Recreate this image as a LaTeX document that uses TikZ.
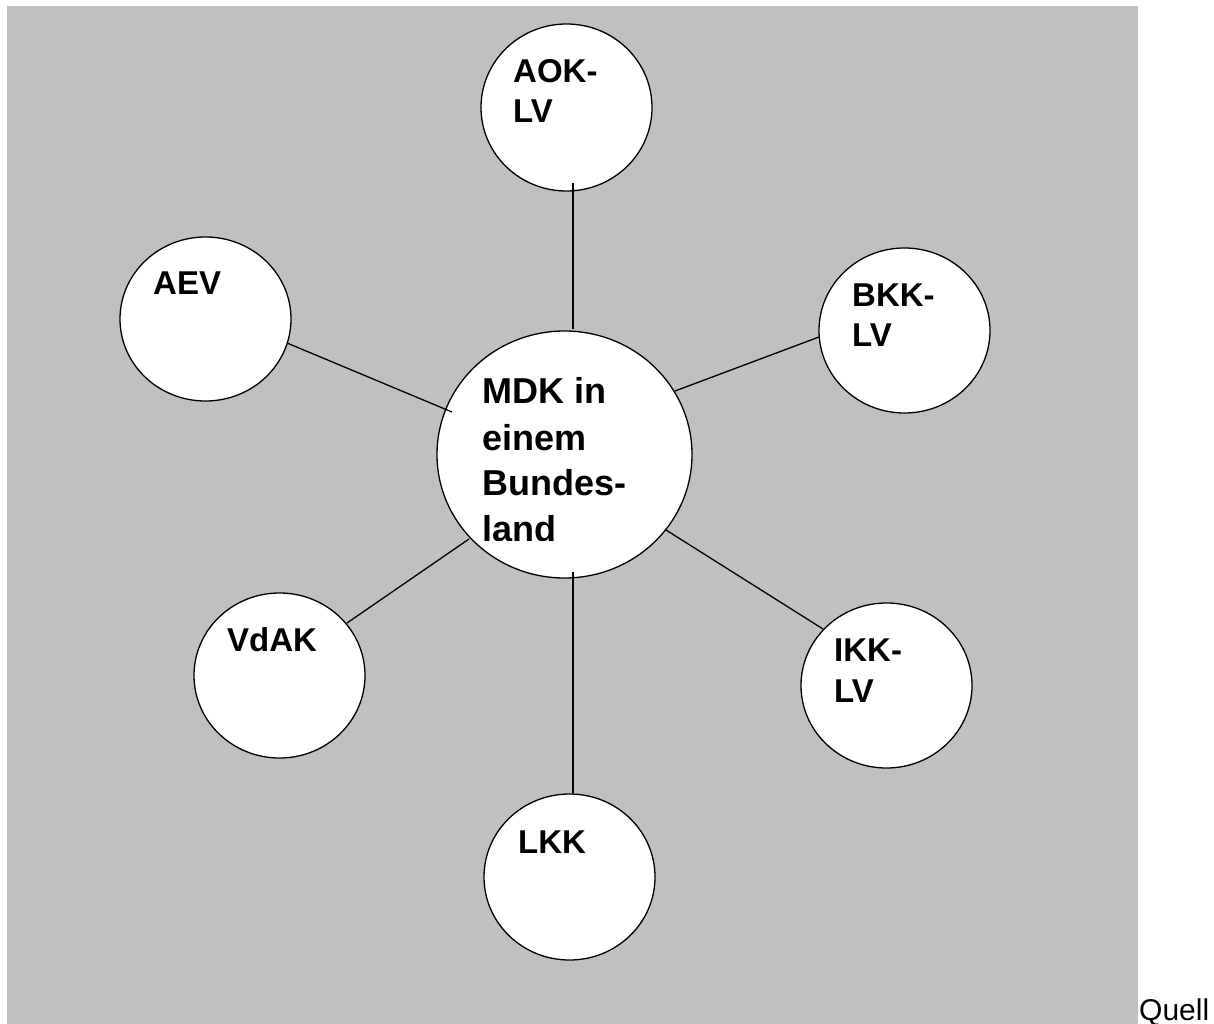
\documentclass[tikz,border=0pt]{standalone}
\usepackage{fontspec}
\setmainfont{Liberation Sans}
\usetikzlibrary{shapes.geometric}
\definecolor{bggray}{HTML}{C0C0C0}
\begin{document}
\begin{tikzpicture}[x=1pt,y=-1pt,
  bubble/.style={draw=black,line width=1.3pt,fill=white,ellipse,inner sep=0pt},
  lbl/.style={anchor=base west,inner sep=0pt,font=\fontsize{33}{40}\selectfont\bfseries},
  biglbl/.style={anchor=base west,inner sep=0pt,font=\fontsize{36}{45}\selectfont\bfseries},
  conn/.style={draw=black,line width=1.3pt}]
\useasboundingbox (0,0) rectangle (1214,1024);
\fill[bggray] (7,6.5) rectangle (1137.5,1024);
% circles
\node[bubble,minimum width=171pt,minimum height=167pt] (aok) at (566.5,107.5) {};
\node[bubble,minimum width=171pt,minimum height=164pt] (aev) at (205.5,319) {};
\node[bubble,minimum width=171pt,minimum height=165pt] (bkk) at (904.5,330.5) {};
\node[bubble,minimum width=255pt,minimum height=247pt] (mdk) at (564.5,454.5) {};
\node[bubble,minimum width=171pt,minimum height=165pt] (vdak) at (279.5,675.5) {};
\node[bubble,minimum width=171pt,minimum height=165pt] (ikk) at (886.5,685.5) {};
\node[bubble,minimum width=171pt,minimum height=166pt] (lkk) at (569.5,877) {};
% connector end points
\coordinate (aokA) at (573,183);  \coordinate (aokB) at (573,329);
\coordinate (lkkA) at (573,572);  \coordinate (lkkB) at (573,793);
\coordinate (aevA) at (287,343);  \coordinate (aevB) at (452,412);
\coordinate (bkkA) at (675,391);  \coordinate (bkkB) at (819,337);
\coordinate (ikkA) at (666,530);  \coordinate (ikkB) at (823,629);
\coordinate (vdakA) at (469,539); \coordinate (vdakB) at (347,623);
\draw[conn] (aokA) -- (aokB);
\draw[conn] (lkkA) -- (lkkB);
\draw[conn] (aevA) -- (aevB);
\draw[conn] (bkkA) -- (bkkB);
\draw[conn] (ikkA) -- (ikkB);
\draw[conn] (vdakA) -- (vdakB);
% labels
\node[lbl] (aokt1) at (513,83) {AOK-};
\node[lbl] (aokt2) at (513,123) {LV};
\node[lbl] (aevt) at (153,294) {AEV};
\node[lbl] (bkkt1) at (852,306) {BKK-};
\node[lbl] (bkkt2) at (852,346) {LV};
\node[biglbl] (mdkt1) at (482,403) {MDK in};
\node[biglbl] (mdkt2) at (482,450) {einem};
\node[biglbl] (mdkt3) at (482,495) {Bundes-};
\begin{scope}
\clip (430,500) rectangle (700,540);
\node[biglbl] (mdkt4) at (482,541.5) {land};
\end{scope}
\node[lbl] (vdakt) at (227,651) {VdAK};
\node[lbl] (ikkt1) at (834,661) {IKK-};
\node[lbl] (ikkt2) at (834,702) {LV};
\node[lbl] (lkkt) at (518,853) {LKK};
\node[anchor=base west,inner sep=0pt,font=\fontsize{30}{34}\selectfont] (quell) at (1139,1020) {Quell};
\end{tikzpicture}
\end{document}
